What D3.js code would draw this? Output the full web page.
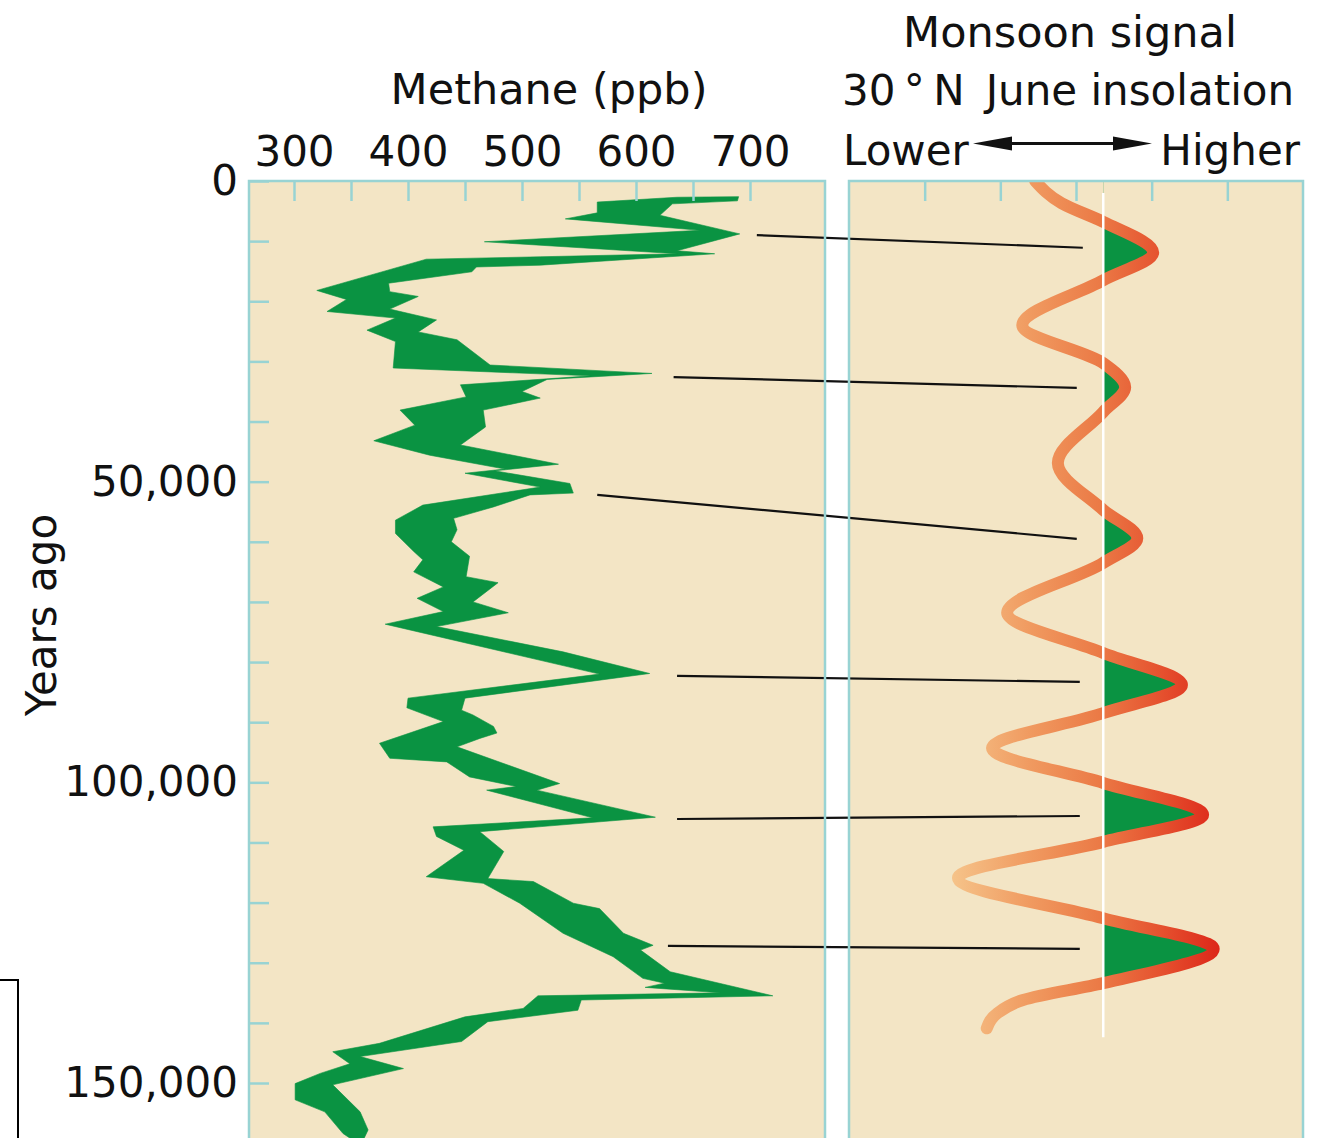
<!DOCTYPE html>
<meta charset="utf-8">

<!-- Load d3.js -->
<script src="https://d3js.org/d3.v7.min.js"></script>

<style>
  body { margin: 0; background: #fff; }
  text { font-family: "DejaVu Sans", Verdana, sans-serif; fill: #111; }
</style>

<div id="chart"></div>
<script>

// ---------------- data ----------------

// methane record drawn as a band: its two edges, [years ago, ppb]
var methaneEast = [
  [3500,566],[2700,636],[2600,690],[3300,689],[3800,632],[5700,621],[8800,691],[11600,636],
  [12100,669],[14000,516],[14300,460],[15100,456],[17000,383],[18400,384],[19200,409],[21300,384],
  [23100,425],[25100,409],[26400,443],[30600,472],[32000,614],[33000,522],[35000,500],[36100,516],
  [38100,466],[40900,468],[43900,446],[47100,532],[48200,476],[50300,542],[51900,545],[52200,507],
  [54200,475],[56100,440],[58000,443],[60000,438],[62400,454],[65800,451],[66800,479],[70000,457],
  [71800,488],[74100,425],[78300,536],[81900,612],[86000,450],[88000,447],[88800,457],[90700,475],
  [91800,478],[92700,463],[94100,443],[100200,533],[101300,513],[105800,617],[108200,463],[111500,484],
  [116000,470],[116500,510],[120100,545],[121000,568],[125100,589],[127100,615],[127900,604],[131500,630],
  [135500,720],[136200,552],[137900,549],[139800,470],[143100,447],[145600,358],[147600,396],[150300,334],
  [154800,358],[157800,365],[159800,360]
];
var methaneWest = [
  [3500,566],[5300,566],[6300,538],[8200,656],[10100,467],[12100,636],[12600,516],[13000,416],
  [18200,320],[19700,346],[21700,329],[22800,389],[24800,364],[26700,389],[31100,387],[31900,492],
  [32400,560],[33900,446],[35900,451],[38100,393],[40600,406],[43200,370],[45600,419],[47900,485],
  [48600,450],[50900,516],[53900,413],[56400,389],[58600,389],[61600,405],[63000,413],[65000,405],
  [67500,431],[69400,408],[71600,431],[73700,380],[82000,568],[86000,400],[87600,399],[89900,431],
  [93500,375],[96000,384],[96600,434],[99100,454],[100700,495],[101300,469],[105900,562],[107400,422],
  [109000,425],[111300,449],[115700,416],[116800,466],[120100,498],[125100,536],[129000,580],[132600,606],
  [133400,625],[134100,608],[135000,674],[135500,514],[137600,501],[139000,450],[143400,375],[144800,334],
  [146800,349],[148400,323],[150100,301],[152800,301],[154800,327],[158400,343],[159800,354]
];

// 30N June insolation, relative units, [years ago, value]
var insolation = [
  [0,2.46],[3700,2.81],[6800,3.36],[11900,4.02],[16500,3.36],[24000,2.29],[30300,3.36],
  [34300,3.65],[38400,3.36],[46900,2.76],[54700,3.36],[59400,3.81],[63500,3.36],[71800,2.09],
  [78500,3.36],[83800,4.40],[88500,3.36],[94300,1.89],[100100,3.36],[105400,4.68],[109900,3.36],
  [115900,1.44],[122600,3.36],[127700,4.82],[133400,3.36],[136200,2.30],[138400,1.96],[140900,1.82]
];
var insolThreshold = 3.36;
var thresholdSpan = [2000, 142400];

// tie lines: [methane age, ppb, insolation age, insolation value]
var tieLines = [
  [9000,706,11100,3.09],
  [32600,633,34400,3.01],
  [52200,566,59500,3.01],
  [82300,636,83300,3.05],
  [106100,636,105600,3.05],
  [127200,628,127700,3.05]
];

var ppbTicks = [300,350,400,450,500,550,600,650,700];
var ageTicks = d3.range(0, 160001, 10000);
var ageLabels = [0, 50000, 100000, 150000];
var insolTicks = [1,2,3,4,5];

// ---------------- layout ----------------
var width = 1322, height = 1138;
var panelTop = 181;
var leftPanel = { x0: 249, x1: 825 };
var rightPanel = { x0: 849, x1: 1303 };
var beige = "#f3e5c5", teal = "#98d3d3", green = "#0a9342";
var fontSize = "42px";

var svg = d3.select("#chart")
  .append("svg")
    .attr("width", width)
    .attr("height", height);

var y = d3.scaleLinear().domain([0, 150000]).range([panelTop, 1083]);
var xM = d3.scaleLinear().domain([300, 700]).range([294, 750]);
var xI = d3.scaleLinear().domain([0, 6]).range([rightPanel.x0, rightPanel.x1]);

var defs = svg.append("defs");

// clip paths for both panels
defs.append("clipPath").attr("id", "clipLeft")
  .append("rect")
    .attr("x", leftPanel.x0).attr("y", panelTop)
    .attr("width", leftPanel.x1 - leftPanel.x0).attr("height", height - panelTop + 20);
defs.append("clipPath").attr("id", "clipRight")
  .append("rect")
    .attr("x", rightPanel.x0).attr("y", panelTop)
    .attr("width", rightPanel.x1 - rightPanel.x0).attr("height", height - panelTop + 20);
defs.append("clipPath").attr("id", "clipHigh")
  .append("rect")
    .attr("x", xI(insolThreshold)).attr("y", panelTop)
    .attr("width", rightPanel.x1 - xI(insolThreshold)).attr("height", height - panelTop + 20);

// colour ramp of the insolation curve: pale orange (low) to red (high)
var grad = defs.append("linearGradient")
  .attr("id", "insolGrad")
  .attr("gradientUnits", "userSpaceOnUse")
  .attr("x1", xI(1.3)).attr("x2", xI(4.95))
  .attr("y1", 0).attr("y2", 0);
[[0, "#f6c68c"], [0.3, "#f09a60"], [0.55, "#eb7a46"], [0.78, "#e5502e"], [1, "#dc2418"]]
  .forEach(function(s) {
    grad.append("stop").attr("offset", s[0]).attr("stop-color", s[1]);
  });

// panel backgrounds
[leftPanel, rightPanel].forEach(function(p) {
  svg.append("rect")
    .attr("x", p.x0).attr("y", panelTop)
    .attr("width", p.x1 - p.x0).attr("height", height)
    .attr("fill", beige);
});

// methane band
var band = methaneEast.concat(methaneWest.slice().reverse());
var bandLine = d3.line()
  .x(function(d) { return xM(d[1]); })
  .y(function(d) { return y(d[0]); });

svg.append("path")
  .attr("clip-path", "url(#clipLeft)")
  .attr("d", bandLine(band) + "Z")
  .attr("fill", green)
  .attr("stroke", green)
  .attr("stroke-width", 0.6)
  .attr("stroke-linejoin", "round");

// insolation: green where above the threshold, then the curve itself
var insolArea = d3.area()
  .curve(d3.curveMonotoneY)
  .y(function(d) { return y(d[0]); })
  .x0(xI(insolThreshold))
  .x1(function(d) { return xI(d[1]); });

var insolLine = d3.line()
  .curve(d3.curveMonotoneY)
  .x(function(d) { return xI(d[1]); })
  .y(function(d) { return y(d[0]); });

svg.append("g")
  .attr("clip-path", "url(#clipRight)")
  .append("path")
    .attr("clip-path", "url(#clipHigh)")
    .attr("d", insolArea(insolation))
    .attr("fill", green);

svg.append("path")
  .attr("clip-path", "url(#clipRight)")
  .attr("d", insolLine(insolation))
  .attr("fill", "none")
  .attr("stroke", "url(#insolGrad)")
  .attr("stroke-width", 12)
  .attr("stroke-linecap", "round");

// threshold line
svg.append("line")
  .attr("x1", xI(insolThreshold)).attr("x2", xI(insolThreshold))
  .attr("y1", y(thresholdSpan[0])).attr("y2", y(thresholdSpan[1]))
  .attr("stroke", "#fff")
  .attr("stroke-width", 2.5);

// tie lines between methane peaks and insolation peaks
svg.append("g")
  .selectAll("line")
  .data(tieLines)
  .enter()
  .append("line")
    .attr("x1", function(d) { return xM(d[1]); })
    .attr("y1", function(d) { return y(d[0]); })
    .attr("x2", function(d) { return xI(d[3]); })
    .attr("y2", function(d) { return y(d[2]); })
    .attr("stroke", "#111")
    .attr("stroke-width", 2.2);

// panel borders
[leftPanel, rightPanel].forEach(function(p) {
  svg.append("rect")
    .attr("x", p.x0).attr("y", panelTop)
    .attr("width", p.x1 - p.x0).attr("height", height)
    .attr("fill", "none")
    .attr("stroke", teal)
    .attr("stroke-width", 2.5);
});

// axes
function styleAxis(g) {
  g.select(".domain").remove();
  g.selectAll(".tick line").attr("stroke", teal).attr("stroke-width", 2.5);
  g.selectAll(".tick text")
    .attr("fill", "#111")
    .style("font-family", "'DejaVu Sans', Verdana, sans-serif")
    .style("font-size", fontSize);
}

svg.append("g")
  .attr("transform", "translate(0," + panelTop + ")")
  .call(d3.axisTop(xM)
    .tickValues(ppbTicks)
    .tickSize(-20)
    .tickPadding(15)
    .tickFormat(function(d) { return d % 100 ? "" : d; }))
  .call(styleAxis);

svg.append("g")
  .attr("transform", "translate(" + leftPanel.x0 + ",0)")
  .call(d3.axisLeft(y)
    .tickValues(ageTicks)
    .tickSize(-20)
    .tickPadding(11)
    .tickFormat(function(d) { return ageLabels.indexOf(d) >= 0 ? d3.format(",")(d) : ""; }))
  .call(styleAxis);

svg.append("g")
  .attr("transform", "translate(0," + panelTop + ")")
  .call(d3.axisTop(xI)
    .tickValues(insolTicks)
    .tickSize(-20)
    .tickFormat(""))
  .call(styleAxis);

// titles
svg.append("text")
  .attr("x", 549).attr("y", 104)
  .attr("text-anchor", "middle")
  .style("font-size", "43px")
  .text("Methane (ppb)");

svg.append("text")
  .attr("x", 1070).attr("y", 47)
  .attr("text-anchor", "middle")
  .style("font-size", "43px")
  .text("Monsoon signal");

svg.append("text")
  .attr("x", 842).attr("y", 105)
  .style("font-size", fontSize)
  .style("white-space", "pre")
  .text("30\u2009°\u2009N\u2002June insolation");

svg.append("text")
  .attr("x", 843).attr("y", 165)
  .style("font-size", fontSize)
  .text("Lower");

svg.append("text")
  .attr("x", 1300).attr("y", 165)
  .attr("text-anchor", "end")
  .style("font-size", fontSize)
  .text("Higher");

// double arrow between Lower and Higher
var arrowY = 143.5;
svg.append("line")
  .attr("x1", 1000).attr("x2", 1125)
  .attr("y1", arrowY).attr("y2", arrowY)
  .attr("stroke", "#111").attr("stroke-width", 3);
svg.append("path")
  .attr("d", "M973," + arrowY + "L1012," + (arrowY - 7) + "L1012," + (arrowY + 7) + "Z")
  .attr("fill", "#111");
svg.append("path")
  .attr("d", "M1152," + arrowY + "L1113," + (arrowY - 7) + "L1113," + (arrowY + 7) + "Z")
  .attr("fill", "#111");

svg.append("text")
  .attr("transform", "translate(56,615) rotate(-90)")
  .attr("text-anchor", "middle")
  .style("font-size", fontSize)
  .text("Years ago");

// small box cut by the lower-left edge
svg.append("rect")
  .attr("x", -10).attr("y", 980)
  .attr("width", 28).attr("height", 200)
  .attr("fill", "none")
  .attr("stroke", "#000")
  .attr("stroke-width", 2);

</script>
